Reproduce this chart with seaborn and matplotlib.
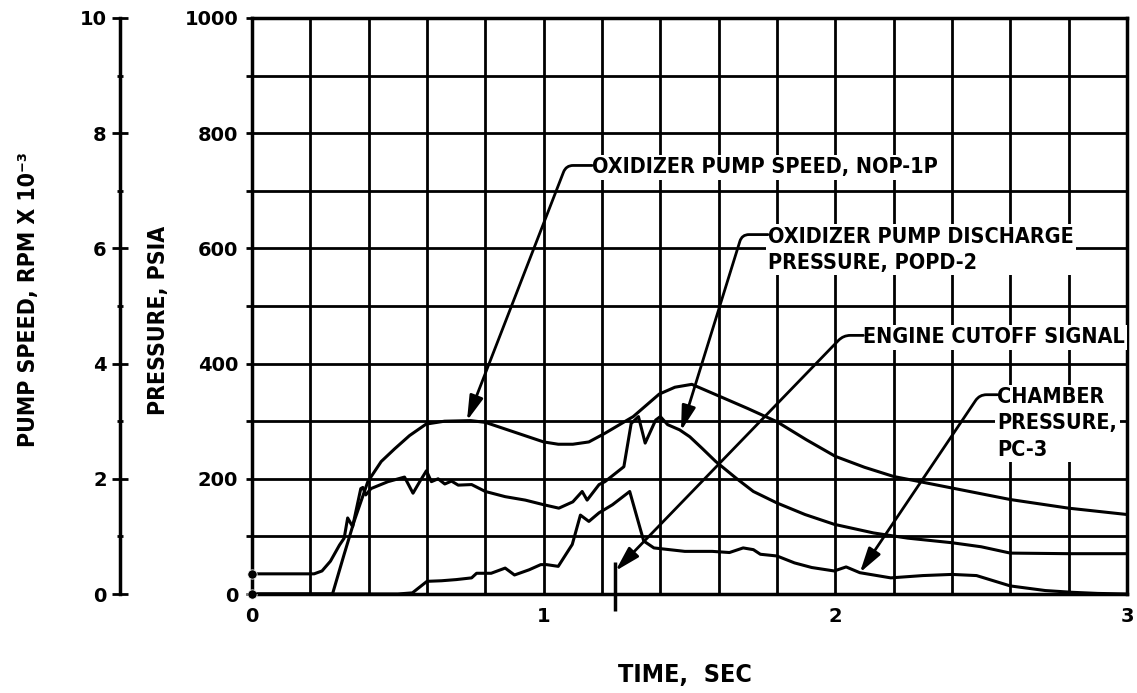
import numpy as np
import matplotlib
matplotlib.use("Agg")
import matplotlib.pyplot as plt
import matplotlib.transforms as mtransforms
from matplotlib.ticker import MultipleLocator
import seaborn as sns

# ================= data =================
# oxidizer pump speed NOP-1P (rpm x 10^-3)
speed_time = [0.0, 0.276, 0.316, 0.35, 0.397, 0.443, 0.489, 0.54, 0.597, 0.66,
              0.75, 0.80, 0.90, 1.0, 1.05, 1.10, 1.155, 1.21, 1.307, 1.396,
              1.45, 1.508, 1.595, 1.70, 1.80, 1.90, 2.0, 2.1, 2.2, 2.4,
              2.6, 2.8, 3.0]
speed_krpm = [0.0, 0.0, 0.69, 1.26, 1.95, 2.30, 2.52, 2.75, 2.95, 3.00,
              3.01, 2.98, 2.81, 2.64, 2.60, 2.60, 2.64, 2.79, 3.08, 3.47,
              3.59, 3.64, 3.45, 3.22, 2.99, 2.68, 2.39, 2.20, 2.04, 1.84,
              1.64, 1.49, 1.38]

# oxidizer pump discharge pressure POPD-2 (psia)
popd_time = [0.0, 0.213, 0.24, 0.269, 0.30, 0.316, 0.328, 0.345, 0.373, 0.38,
             0.39, 0.408, 0.466, 0.523, 0.552, 0.575, 0.598, 0.615, 0.638, 0.661,
             0.684, 0.707, 0.753, 0.80, 0.868, 0.937, 1.0, 1.052, 1.10, 1.132,
             1.149, 1.19, 1.21, 1.275, 1.30, 1.325, 1.348, 1.384, 1.40, 1.425,
             1.466, 1.501, 1.543, 1.59, 1.66, 1.719, 1.80, 1.896, 1.996, 2.131,
             2.248, 2.40, 2.50, 2.60, 2.80, 3.0]
popd_psia = [35, 35, 40, 57, 85, 97, 132, 117, 183, 185,
             172, 183, 195, 203, 175, 195, 214, 195, 200, 191,
             196, 189, 190, 178, 169, 163, 155, 149, 160, 178,
             163, 190, 195, 221, 296, 308, 262, 302, 308, 294,
             285, 273, 253, 230, 201, 178, 158, 138, 121, 106,
             97, 89, 82, 71, 70, 70]

# chamber pressure PC-3 (psia)
pc_time = [0.0, 0.50, 0.55, 0.60, 0.65, 0.70, 0.753, 0.77, 0.82, 0.868,
           0.90, 0.95, 0.99, 1.01, 1.05, 1.098, 1.126, 1.155, 1.19, 1.236,
           1.295, 1.343, 1.378, 1.484, 1.578, 1.637, 1.684, 1.719, 1.743, 1.80,
           1.86, 1.919, 1.996, 2.037, 2.084, 2.19, 2.30, 2.40, 2.484, 2.60,
           2.72, 2.81, 2.90, 3.0]
pc_psia = [0, 0, 2, 22, 23, 25, 28, 36, 36, 45,
           33, 42, 51, 51, 48, 86, 137, 126, 141, 155,
           178, 92, 80, 74, 74, 72, 80, 77, 69, 66,
           54, 46, 40, 47, 37, 28, 32, 34, 32, 14,
           6, 3, 1, 0]

# engine cutoff signal (sec)
cutoff_time = 1.246

# ================= style =================
sns.set_theme(style="white")
plt.rcParams["font.family"] = ["DejaVu Sans"]
plt.rcParams["font.weight"] = "bold"
TEXT_FONT = ["DejaVu Sans"]
INK = "black"

W, H = 1137, 693
LEFT, RIGHT, TOP, BOTTOM = 252, 1127, 18, 594   # axes box in pixels

fig = plt.figure(figsize=(W / 100, H / 100), dpi=100, facecolor="white")
ax = fig.add_axes([LEFT / W, 1 - BOTTOM / H, (RIGHT - LEFT) / W, (BOTTOM - TOP) / H])
ax2 = ax.twinx()

# ================= curves =================
line_kw = dict(color=INK, linewidth=2.2, estimator=None, sort=False, legend=False)
sns.lineplot(x=popd_time, y=popd_psia, ax=ax, **line_kw)
sns.lineplot(x=pc_time, y=pc_psia, ax=ax, **line_kw)
sns.lineplot(x=speed_time, y=speed_krpm, ax=ax2, **line_kw)
sns.scatterplot(x=[popd_time[0], pc_time[0]], y=[popd_psia[0], pc_psia[0]], ax=ax,
                color=INK, s=45, clip_on=False, zorder=5, legend=False)
ax.plot([cutoff_time, cutoff_time], [-29, 55], color=INK, lw=2.5,
        clip_on=False, solid_capstyle="butt")

# ================= axes =================
ax.set_xlim(0, 3)
ax.set_ylim(0, 1000)
ax2.set_ylim(0, 10)

ax.xaxis.set_major_locator(MultipleLocator(1))
ax.xaxis.set_minor_locator(MultipleLocator(0.2))
ax.yaxis.set_major_locator(MultipleLocator(200))
ax.yaxis.set_minor_locator(MultipleLocator(100))
ax.grid(which="both", color=INK, linewidth=2)
ax.tick_params(axis="x", which="both", length=0, pad=9, labelsize=14, labelcolor=INK)
ax.tick_params(axis="y", which="both", direction="out", length=4, width=2, color=INK,
               pad=6, labelsize=14, labelcolor=INK, left=True)
for s in ax.spines.values():
    s.set_color(INK)
    s.set_linewidth(2.5)

# pump speed scale on a second spine further left
ax2.spines["left"].set_position(("axes", (120 - LEFT) / (RIGHT - LEFT)))
ax2.spines["left"].set_visible(True)
ax2.spines["left"].set_color(INK)
ax2.spines["left"].set_linewidth(2.5)
for side in ("right", "top", "bottom"):
    ax2.spines[side].set_visible(False)
ax2.yaxis.set_ticks_position("left")
ax2.yaxis.set_label_position("left")
ax2.yaxis.set_major_locator(MultipleLocator(2))
ax2.yaxis.set_minor_locator(MultipleLocator(1))
ax2.tick_params(axis="y", which="major", direction="inout", length=11, width=2, color=INK,
                pad=4, labelsize=14, labelcolor=INK, left=True, right=False)
ax2.tick_params(axis="y", which="minor", direction="inout", length=5, width=2, color=INK,
                left=True, right=False)
ax2.grid(False)

label_kw = dict(fontfamily=TEXT_FONT, fontstretch="condensed", fontweight="bold", color=INK)
ax2.set_ylabel("PUMP SPEED, RPM X 10⁻³", fontsize=16.5, **label_kw)
ax2.yaxis.set_label_coords((40 - LEFT) / (RIGHT - LEFT), 0.512)
ax.set_ylabel("PRESSURE, PSIA", fontsize=16.5, **label_kw)
ax.yaxis.set_label_coords((170 - LEFT) / (RIGHT - LEFT), 0.475)
ax.set_xlabel("TIME,  SEC", fontsize=18, **label_kw)
ax.xaxis.set_label_coords(0.495, -(663 - BOTTOM) / (BOTTOM - TOP))

# ================= callouts =================
def callout(label, at, target, target_ax, dash_px):
    # text left edge at `at` (pressure units); leader: short dash, then straight to target
    lx, ly = ax.transData.transform(at)
    tx, ty = target_ax.transData.transform(target)
    cx = lx - dash_px
    angle_b = np.degrees(np.arctan2(ly - ty, cx - tx))
    ax2.annotate("", xy=target, xycoords=target_ax.transData,
                 xytext=at, textcoords=ax.transData,
                 arrowprops=dict(arrowstyle="-|>,head_length=1.0,head_width=0.28",
                                 mutation_scale=15, color=INK, lw=2,
                                 shrinkA=0, shrinkB=0,
                                 connectionstyle=f"angle,angleA=0,angleB={angle_b},rad=7"),
                 zorder=6)
    top = mtransforms.offset_copy(ax.transData, fig=fig, x=0, y=8, units="dots")
    ax2.text(at[0], at[1], label, transform=top, ha="left", va="top",
             fontsize=15.5, linespacing=1.4,
             bbox=dict(fc="white", ec="none", pad=1.5), zorder=5, **label_kw)


callout("OXIDIZER PUMP SPEED, NOP-1P", (1.166, 744),
        (0.737, np.interp(0.737, speed_time, speed_krpm)), ax2, 26)
callout("OXIDIZER PUMP DISCHARGE\nPRESSURE, POPD-2", (1.769, 624),
        (1.471, np.interp(1.471, popd_time, popd_psia)), ax, 26)
callout("ENGINE CUTOFF SIGNAL", (2.096, 449), (cutoff_time, 40), ax, 20)
callout("CHAMBER\nPRESSURE,\nPC-3", (2.556, 346),
        (2.084, np.interp(2.084, pc_time, pc_psia)), ax, 18)

fig.savefig("out.png", dpi=100, facecolor="white")
